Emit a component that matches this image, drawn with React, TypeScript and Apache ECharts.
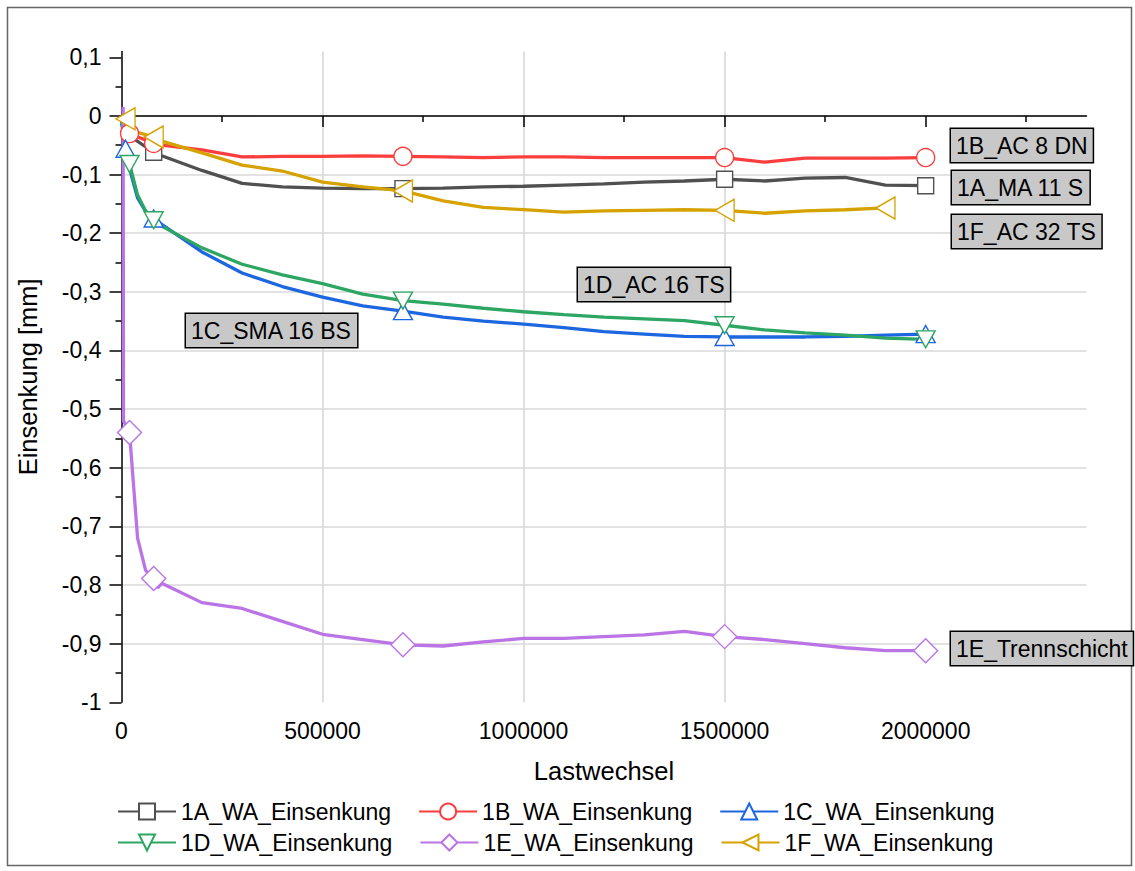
import React, { useEffect, useRef } from 'react';
import * as echarts from 'echarts';

const seriesNames = ['1A_WA_Einsenkung', '1B_WA_Einsenkung', '1C_WA_Einsenkung', '1D_WA_Einsenkung', '1E_WA_Einsenkung', '1F_WA_Einsenkung'];

const xA = [0, 20000, 80000, 100000, 200000, 300000, 400000, 500000, 600000, 700000, 800000, 900000, 1000000, 1100000, 1200000, 1300000, 1400000, 1500000, 1600000, 1700000, 1800000, 1900000, 2000000];
const yA = [-0.01, -0.034, -0.062, -0.068, -0.093, -0.115, -0.121, -0.123, -0.124, -0.124, -0.123, -0.121, -0.12, -0.118, -0.116, -0.113, -0.111, -0.108, -0.111, -0.106, -0.105, -0.118, -0.119];
const markA = [80000, 700000, 1500000, 2000000];

const xB = [0, 20000, 80000, 100000, 200000, 300000, 400000, 500000, 600000, 700000, 800000, 900000, 1000000, 1100000, 1200000, 1300000, 1400000, 1500000, 1600000, 1700000, 1800000, 1900000, 2000000];
const yB = [-0.01, -0.03, -0.047, -0.05, -0.058, -0.07, -0.069, -0.069, -0.068, -0.069, -0.07, -0.071, -0.07, -0.07, -0.071, -0.071, -0.071, -0.071, -0.079, -0.072, -0.072, -0.072, -0.071];
const markB = [20000, 80000, 700000, 1500000, 2000000];

const xC = [0, 10000, 20000, 40000, 60000, 80000, 100000, 200000, 300000, 400000, 500000, 600000, 700000, 800000, 900000, 1000000, 1100000, 1200000, 1300000, 1400000, 1500000, 1600000, 1700000, 1800000, 1900000, 2000000];
const yC = [-0.01, -0.056, -0.09, -0.14, -0.163, -0.175, -0.185, -0.232, -0.268, -0.291, -0.309, -0.324, -0.333, -0.343, -0.35, -0.355, -0.361, -0.368, -0.372, -0.376, -0.377, -0.377, -0.377, -0.376, -0.374, -0.372];
const markC = [10000, 80000, 700000, 1500000, 2000000];

const xD = [0, 10000, 20000, 40000, 60000, 80000, 100000, 200000, 300000, 400000, 500000, 600000, 700000, 800000, 900000, 1000000, 1100000, 1200000, 1300000, 1400000, 1500000, 1600000, 1700000, 1800000, 1900000, 2000000];
const yD = [-0.01, -0.04, -0.082, -0.135, -0.162, -0.178, -0.188, -0.225, -0.253, -0.271, -0.286, -0.304, -0.315, -0.321, -0.328, -0.334, -0.339, -0.343, -0.346, -0.349, -0.357, -0.365, -0.37, -0.374, -0.379, -0.381];
const markD = [20000, 80000, 700000, 1500000, 2000000];

const xE = [4000, 5000, 20000, 40000, 60000, 80000, 90000, 100000, 200000, 300000, 400000, 500000, 600000, 700000, 800000, 900000, 1000000, 1100000, 1200000, 1300000, 1400000, 1500000, 1600000, 1700000, 1800000, 1900000, 2000000];
const yE = [0.015, -0.52, -0.54, -0.72, -0.775, -0.789, -0.805, -0.797, -0.83, -0.84, -0.862, -0.884, -0.893, -0.902, -0.904, -0.897, -0.891, -0.891, -0.888, -0.885, -0.879, -0.888, -0.893, -0.9, -0.907, -0.912, -0.912];
const markE = [20000, 80000, 700000, 1500000, 2000000];

const xF = [0, 10000, 20000, 40000, 80000, 100000, 200000, 300000, 400000, 500000, 600000, 700000, 800000, 900000, 1000000, 1100000, 1200000, 1300000, 1400000, 1500000, 1600000, 1700000, 1800000, 1900000];
const yF = [0, -0.005, -0.022, -0.028, -0.036, -0.043, -0.063, -0.084, -0.094, -0.113, -0.121, -0.128, -0.145, -0.156, -0.16, -0.164, -0.162, -0.161, -0.16, -0.161, -0.166, -0.162, -0.16, -0.157];
const markF = [10000, 80000, 700000, 1500000, 1900000];

const xMajorTicks = [0, 500000, 1000000, 1500000, 2000000];
const xMinorTicks = [250000, 750000, 1250000, 1750000, 2250000];
const yMajorTicks = [-1, -0.9, -0.8, -0.7, -0.6, -0.5, -0.4, -0.3, -0.2, -0.1, 0, 0.1];
const yMinorTicks = [-0.95, -0.85, -0.75, -0.65, -0.55, -0.45, -0.35, -0.25, -0.15, -0.05, 0.05];

const annotations = [
  { text: '1B_AC 8 DN', x: 951, y: 129 },
  { text: '1A_MA 11 S', x: 952, y: 171 },
  { text: '1F_AC 32 TS', x: 952, y: 215 },
  { text: '1D_AC 16 TS', x: 578, y: 268 },
  { text: '1C_SMA 16 BS', x: 186, y: 314 },
  { text: '1E_Trennschicht', x: 951, y: 632 },
];

const FONT = '"Liberation Sans", Arial, sans-serif';

export default function App() {
  const ref = useRef<HTMLDivElement>(null);
  useEffect(() => {
    document.body.style.margin = '0';
    const chart = echarts.init(ref.current!, undefined, { renderer: 'svg' });
    const colors = ['#505050', '#fa3e3e', '#1c66e0', '#2ca662', '#bb74e6', '#d6a200'];
    const xs = [xA, xB, xC, xD, xE, xF];
    const ys = [yA, yB, yC, yD, yE, yF];
    const marks = [markA, markB, markC, markD, markE, markF];
    const symbols = ['rect', 'circle', 'triangle', 'triangle', 'diamond', 'triangle'];
    const sizes: any[] = [[16, 16], [18, 18], [19, 17], [19, 17], [24, 24], [22, 19]];
    const rotates = [0, 0, 0, 180, 0, 90];
    const series = seriesNames.map((name, k) => ({
      name,
      type: 'line',
      xAxisIndex: 0,
      yAxisIndex: 0,
      symbol: symbols[k],
      symbolSize: sizes[k],
      symbolRotate: rotates[k],
      showSymbol: true,
      smooth: false,
      lineStyle: { color: colors[k], width: 3.3 },
      itemStyle: { color: '#ffffff', borderColor: colors[k], borderWidth: 1.4 },
      emphasis: { disabled: true },
      data: xs[k].map((x, i) => {
        const d: any = { value: [x, ys[k][i]] };
        if (!marks[k].includes(x)) d.symbol = 'none';
        return d;
      }),
    }));
    const axisBlack = { lineStyle: { color: '#000', width: 1.5 } };
    const yFmt = (v: number) => {
      const r = Math.round(v * 10) / 10;
      if (Math.abs(r) < 1e-9) return '0';
      if (Number.isInteger(r)) return String(r);
      return r.toFixed(1).replace('.', ',');
    };
    const xFmt = (v: number) => String(Math.round(v));
    chart.setOption({
      animation: false,
      backgroundColor: '#ffffff',
      textStyle: { fontFamily: FONT },
      grid: { left: 121.5, top: 51.4, right: 48.5, bottom: 168.7, containLabel: false },
      xAxis: [
        {
          type: 'value', min: 0, max: 2400000, interval: 250000, position: 'bottom',
          name: 'Lastwechsel', nameLocation: 'middle', nameGap: 56,
          nameTextStyle: { fontSize: 25.5, color: '#000', fontFamily: FONT },
          axisLine: { show: true, ...axisBlack },
          axisTick: { show: true, customValues: xMajorTicks, length: 11, ...axisBlack },
          axisLabel: { show: true, customValues: xMajorTicks, fontSize: 23, color: '#000', margin: 17, fontFamily: FONT, formatter: xFmt },
          splitLine: { show: true, showMaxLine: false, showMinLine: false, lineStyle: { color: '#d8d8d8', width: 1.6 } },
        },
        {
          type: 'value', min: 0, max: 2400000, interval: 250000, position: 'bottom',
          axisLine: { show: false },
          axisTick: { show: true, customValues: xMinorTicks, length: 6, ...axisBlack },
          axisLabel: { show: false },
          splitLine: { show: false },
        },
      ],
      yAxis: [
        {
          type: 'value', min: -1, max: 0.11, interval: 0.1, position: 'left',
          name: 'Einsenkung [mm]', nameLocation: 'middle', nameGap: 81,
          nameTextStyle: { fontSize: 25.5, color: '#000', fontFamily: FONT },
          axisLine: { show: true, ...axisBlack },
          axisTick: { show: true, customValues: yMajorTicks, length: 12, ...axisBlack },
          axisLabel: { show: true, customValues: yMajorTicks, fontSize: 23, color: '#000', margin: 20, fontFamily: FONT, formatter: yFmt },
          splitLine: { show: true, showMaxLine: false, showMinLine: false, lineStyle: { color: '#d8d8d8', width: 1.6 } },
        },
        {
          type: 'value', min: -1, max: 0.11, interval: 0.1, position: 'left',
          axisLine: { show: false },
          axisTick: { show: true, customValues: yMinorTicks, length: 6, ...axisBlack },
          axisLabel: { show: false },
          splitLine: { show: false },
        },
      ],
      legend: [
        {
          data: seriesNames.slice(0, 3), left: 112, top: 795, orient: 'horizontal',
          itemWidth: 58, itemHeight: 20, itemGap: 27, symbolRotate: 'inherit',
          textStyle: { fontSize: 23, color: '#000', fontFamily: FONT },
        },
        {
          data: seriesNames.slice(3), left: 112, top: 826, orient: 'horizontal',
          itemWidth: 58, itemHeight: 20, itemGap: 27, symbolRotate: 'inherit',
          textStyle: { fontSize: 23, color: '#000', fontFamily: FONT },
        },
      ],
      graphic: [
        { type: 'rect', shape: { x: 7.5, y: 7.5, width: 1124, height: 858 }, style: { fill: 'none', stroke: '#666', lineWidth: 1.5 }, silent: true },
        ...annotations.map((a) => ({
          type: 'text', x: a.x, y: a.y, z: 100,
          style: {
            text: a.text, font: `23px ${FONT}`, fill: '#000', align: 'left', verticalAlign: 'top',
            backgroundColor: '#c8c8c8', borderColor: '#000', borderWidth: 1.5, padding: [4, 5, 4, 5], lineHeight: 25,
          },
        })),
      ],
      series,
    });
    return () => chart.dispose();
  }, []);
  return <div ref={ref} style={{ width: 1135, height: 871 }} />;
}
